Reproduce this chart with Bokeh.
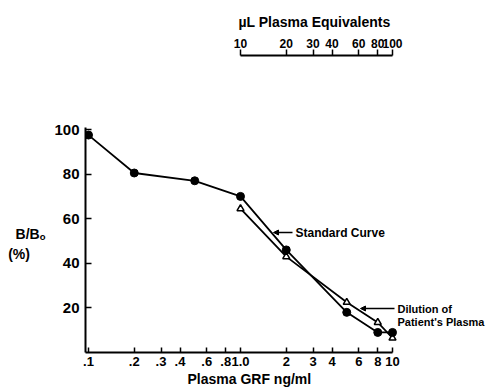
from bokeh.plotting import figure
from bokeh.models import (Range1d, LogAxis, LinearAxis, FixedTicker, Label, Arrow,
                          NormalHead, LogScale, Title)
from bokeh.embed import file_html
from bokeh.resources import INLINE

# ---- data ----
conc_std = [0.1, 0.2, 0.5, 1.0, 2.0, 5.0, 8.0, 10.0]
bb0_std = [97.5, 80.5, 77.0, 70.0, 46.0, 18.0, 9.0, 9.0]
conc_dil = [1.0, 2.0, 5.0, 8.0, 10.0]
bb0_dil = [64.5, 43.0, 22.5, 13.5, 6.5]

x_ticks = [0.1, 0.2, 0.3, 0.4, 0.6, 0.8, 1.0, 2.0, 3.0, 4.0, 6.0, 8.0, 10.0]
x_tick_labels = [".1", ".2", ".3", ".4", ".6", ".8", "1.0", "2", "3", "4", "6", "8", "10"]
y_ticks = [20, 40, 60, 80, 100]
top_ticks = [10, 20, 30, 40, 60, 80, 100]
top_tick_labels = ["10", "20", "30", "40", "60", "80", "100"]

FONT = "Liberation Sans"

# ---- layout (pixel plan) ----
W, H = 487, 390
FL, FR, FT, FB = 85, 487, 55, 352
X0PX, DEC = 88.0, 152.0          # x=0.1 at 88px, 152 px per decade
Y0PX, YPX = 352.0, 2.23          # y=0 at 352px, 2.23 px per unit

def xd(px):
    return 0.1 * 10 ** ((px - X0PX) / DEC)

def yd(py):
    return (Y0PX - py) / YPX

x_range = Range1d(xd(FL), xd(FR))
y_range = Range1d(yd(FB), yd(FT))

p = figure(width=W, height=H, x_axis_type="log", x_range=x_range, y_range=y_range,
           x_axis_location=None, y_axis_location=None,
           output_backend="svg", toolbar_location=None,
           min_border_left=FL, min_border_right=W - FR,
           min_border_top=FT, min_border_bottom=H - FB)
p.grid.visible = False
p.outline_line_color = None
p.background_fill_color = "white"

p.extra_x_ranges = {"ul": Range1d(xd(FL) * 10, xd(FR) * 10)}
p.extra_x_scales = {"ul": LogScale()}

def style_axis(ax, size):
    ax.axis_line_width = 2
    ax.axis_line_color = "black"
    ax.major_tick_line_width = 1.5
    ax.major_tick_line_color = "black"
    ax.minor_tick_in = 0
    ax.minor_tick_out = 0
    ax.major_label_text_font = FONT
    ax.major_label_text_font_style = "bold"
    ax.major_label_text_font_size = size
    ax.major_label_text_color = "black"
    ax.axis_label_text_font = FONT
    ax.axis_label_text_font_style = "bold"
    ax.axis_label_text_color = "black"

xax = LogAxis(ticker=FixedTicker(ticks=x_ticks), bounds=(xd(FL), 10),
              major_label_overrides={t: s for t, s in zip(x_ticks, x_tick_labels)},
              major_tick_in=5, major_tick_out=0, major_label_standoff=4)
style_axis(xax, "13px")
p.add_layout(xax, "below")

p.add_layout(Title(text="Plasma GRF ng/ml", align="left", offset=187 - FL, standoff=0,
                   text_font=FONT, text_font_style="bold", text_font_size="14px",
                   text_color="black"), "below")

NB = "\u00a0"
yax = LinearAxis(ticker=FixedTicker(ticks=y_ticks), bounds=(0, 101),
                 major_tick_in=6, major_tick_out=0, major_label_standoff=6,
                 axis_label="\n\n\n\nB/B\u2092\n(%)" + NB * 4,
                 axis_label_orientation="horizontal", axis_label_standoff=6)
style_axis(yax, "15px")
yax.axis_label_text_font_size = "14px"
yax.axis_label_text_line_height = 1.25
p.add_layout(yax, "left")

tax = LogAxis(x_range_name="ul", ticker=FixedTicker(ticks=top_ticks), bounds=(10, 100),
              major_label_overrides={t: s for t, s in zip(top_ticks, top_tick_labels)},
              major_tick_in=0, major_tick_out=6, major_label_standoff=2)
style_axis(tax, "12px")
p.add_layout(tax, "above")

p.add_layout(Title(text="\u00b5L Plasma Equivalents", align="left", offset=238 - FL,
                   standoff=12, text_font=FONT, text_font_style="bold",
                   text_font_size="14px", text_color="black"), "above")

# ---- curves ----
p.line(conc_std, bb0_std, line_color="black", line_width=1.8)
p.line(conc_dil, bb0_dil, line_color="black", line_width=1.8)
p.scatter(conc_dil, bb0_dil, marker="triangle", size=7, fill_color="white",
          line_color="black", line_width=1.5)
p.scatter(conc_std, bb0_std, marker="circle", size=8, fill_color="black",
          line_color="black")

# ---- annotations ----
def lab(x, y, text, size):
    p.add_layout(Label(x=x, y=y, text=text, text_font=FONT, text_font_style="bold",
                       text_font_size=size, text_align="left", text_baseline="middle",
                       text_color="black"))

lab(xd(295), yd(232), "Standard Curve", "12px")
lab(xd(397), yd(308), "Dilution of", "11px")
lab(xd(397), yd(321), "Patient's Plasma", "11px")

p.add_layout(Arrow(end=NormalHead(size=5, fill_color="black", line_color="black"),
                   x_start=xd(292), y_start=yd(232), x_end=xd(273), y_end=yd(232),
                   line_width=1.3, line_color="black"))
p.add_layout(Arrow(end=NormalHead(size=5, fill_color="black", line_color="black"),
                   x_start=xd(394), y_start=yd(308), x_end=xd(360), y_end=yd(308),
                   line_width=1.3, line_color="black"))

open("out.html", "w").write(file_html(p, INLINE))
